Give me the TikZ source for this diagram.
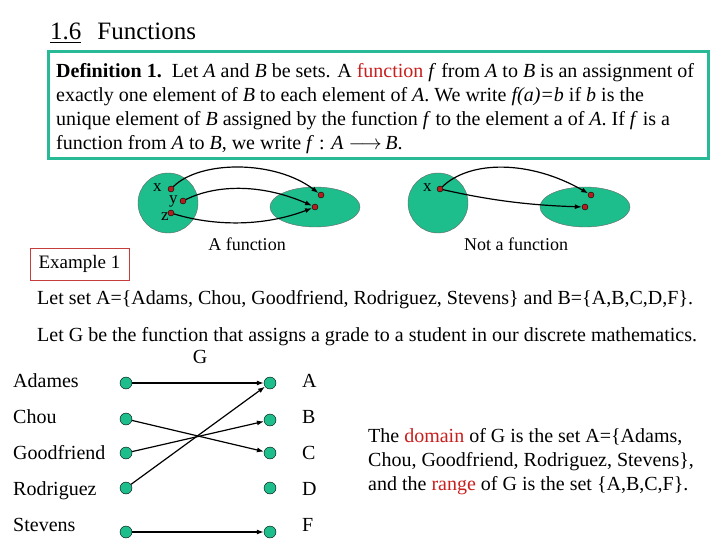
\documentclass[tikz,border=0pt]{standalone}
\usepackage{fontspec}
\setmainfont{Liberation Serif}
\usetikzlibrary{arrows.meta, shapes.geometric}
\definecolor{setgreen}{RGB}{30,190,140}
\definecolor{boxteal}{RGB}{40,185,150}
\definecolor{dotred}{RGB}{180,30,30}
\definecolor{wordred}{RGB}{200,30,30}
\definecolor{exred}{RGB}{200,60,60}

\begin{document}
\begin{tikzpicture}[x=1pt,y=-1pt,
            txt/.style={anchor=base west,inner sep=0pt,
                        font=\fontsize{20}{24}\selectfont},
            setA/.style={circle,fill=setgreen,draw=black!60,
                        minimum size=60pt,inner sep=0pt},
            setB/.style={ellipse,fill=setgreen,draw=black!60,
                        minimum width=90pt,minimum height=40pt,inner sep=0pt},
            pt/.style={circle,fill=dotred,draw=black,
                        minimum size=6pt,inner sep=0pt},
            elem/.style={circle,fill=setgreen,draw=black,
                        minimum size=12pt,inner sep=0pt},
            arrow/.style={-{Latex[length=7pt,width=5pt]},line width=1.2pt}]
        \useasboundingbox (0,0) rectangle (720,540);
        % title and definition
        \node[txt,font=\fontsize{25}{28}\selectfont] (title) at (50,40)
            {\underline{1.6}\hspace{16pt}Functions};
        \node[draw=boxteal,line width=3pt,minimum width=660pt,
              minimum height=107pt] (defbox) at (378,105.5) {};
        \node[anchor=north west,inner sep=0pt,align=left,
              font=\fontsize{20}{24}\selectfont] (def) at (56,63)
            {\textbf{Definition 1.}\ \ Let \textit{A} and \textit{B} be sets.
             A \textcolor{wordred}{function} \textit{f} from \textit{A} to
             \textit{B} is an assignment of\\
             exactly one element of \textit{B} to each element of \textit{A}.
             We write \textit{f(a)=b} if \textit{b} is the\\
             unique element of \textit{B} assigned by the function \textit{f}
             to the element a of \textit{A}. If \textit{f} is a\\
             function from \textit{A} to \textit{B}, we write \textit{f} :
             \textit{A} $\longrightarrow$\,\textit{B}.};
        % a function
        \node[setA] (A1) at (168,203) {};
        \node[setB] (B1) at (315,207) {};
        \node[pt] (x1) at (171,189) {};
        \node[pt] (y1) at (183,201) {};
        \node[pt] (z1) at (171,213) {};
        \node[pt] (b11) at (321,195) {};
        \node[pt] (b12) at (315,207) {};
        \node[txt,font=\fontsize{17}{20}\selectfont] (lx1) at (153,192) {x};
        \node[txt,font=\fontsize{17}{20}\selectfont] (ly1) at (169,204) {y};
        \node[txt,font=\fontsize{17}{20}\selectfont] (lz1) at (161,221) {z};
        \draw[arrow] (x1) .. controls (200,160) and (275,160) .. (b11);
        \draw[arrow] (y1) .. controls (215,185) and (260,183) .. (b12);
        \draw[arrow] (z1) .. controls (210,225) and (260,228) .. (b12);
        \node[txt,anchor=base,font=\fontsize{18}{20}\selectfont] (fun)
            at (247,250) {A function};
        % not a function
        \node[setA] (A2) at (438,203) {};
        \node[setB] (B2) at (585,207) {};
        \node[pt] (x2) at (440,189) {};
        \node[pt] (c21) at (591,195) {};
        \node[pt] (c22) at (585,207) {};
        \node[txt,font=\fontsize{17}{20}\selectfont] (lx2) at (423,192) {x};
        \draw[arrow] (x2) .. controls (470,160) and (530,160) .. (c21);
        \draw[arrow] (x2) .. controls (480,198) and (520,205) .. (c22);
        \node[txt,anchor=base,font=\fontsize{18}{20}\selectfont] (nofun)
            at (516,250) {Not a function};
        % example
        \node[draw=exred,minimum width=99pt,minimum height=32pt,
              font=\fontsize{19}{24}\selectfont] (ex) at (79.5,264)
            {Example 1};
        \node[txt] (sets) at (37,304)
            {Let set A=\{Adams, Chou, Goodfriend, Rodriguez, Stevens\}
             and B=\{A,B,C,D,F\}.};
        \node[txt] (letG) at (37,341)
            {Let G be the function that assigns a grade to a student in our
             discrete mathematics.};
        \node[txt,anchor=base] (G) at (200,363) {G};
        % students and grades
        \node[txt] (nAdames) at (13,387) {Adames};
        \node[txt] (nChou) at (13,423) {Chou};
        \node[txt] (nGood) at (13,459) {Goodfriend};
        \node[txt] (nRod) at (13,495) {Rodriguez};
        \node[txt] (nSte) at (13,531) {Stevens};
        \node[txt] (gA) at (302,387) {A};
        \node[txt] (gB) at (302,423) {B};
        \node[txt] (gC) at (302,459) {C};
        \node[txt] (gD) at (302,495) {D};
        \node[txt] (gF) at (302,531) {F};
        \node[elem] (sAdames) at (126,383) {};
        \node[elem] (sChou) at (126,419) {};
        \node[elem] (sGood) at (126,453) {};
        \node[elem] (sRod) at (126,488) {};
        \node[elem] (sSte) at (126,532) {};
        \node[elem] (dA) at (270,383) {};
        \node[elem] (dB) at (270,420) {};
        \node[elem] (dC) at (270,453) {};
        \node[elem] (dD) at (270,488) {};
        \node[elem] (dF) at (270,532) {};
        \draw[arrow] (sAdames) -- (dA);
        \draw[arrow] (sChou) -- (dC);
        \draw[arrow] (sGood) -- (dB);
        \draw[arrow] (sRod) -- (dA);
        \draw[arrow] (sSte) -- (dF);
        % domain and range
        \node[txt,align=left,anchor=north west] (domain) at (368,428)
            {The \textcolor{wordred}{domain} of G is the set A=\{Adams,\\
             Chou, Goodfriend, Rodriguez, Stevens\},\\
             and the \textcolor{wordred}{range} of G is the set
             \{A,B,C,F\}.};
\end{tikzpicture}
\end{document}
